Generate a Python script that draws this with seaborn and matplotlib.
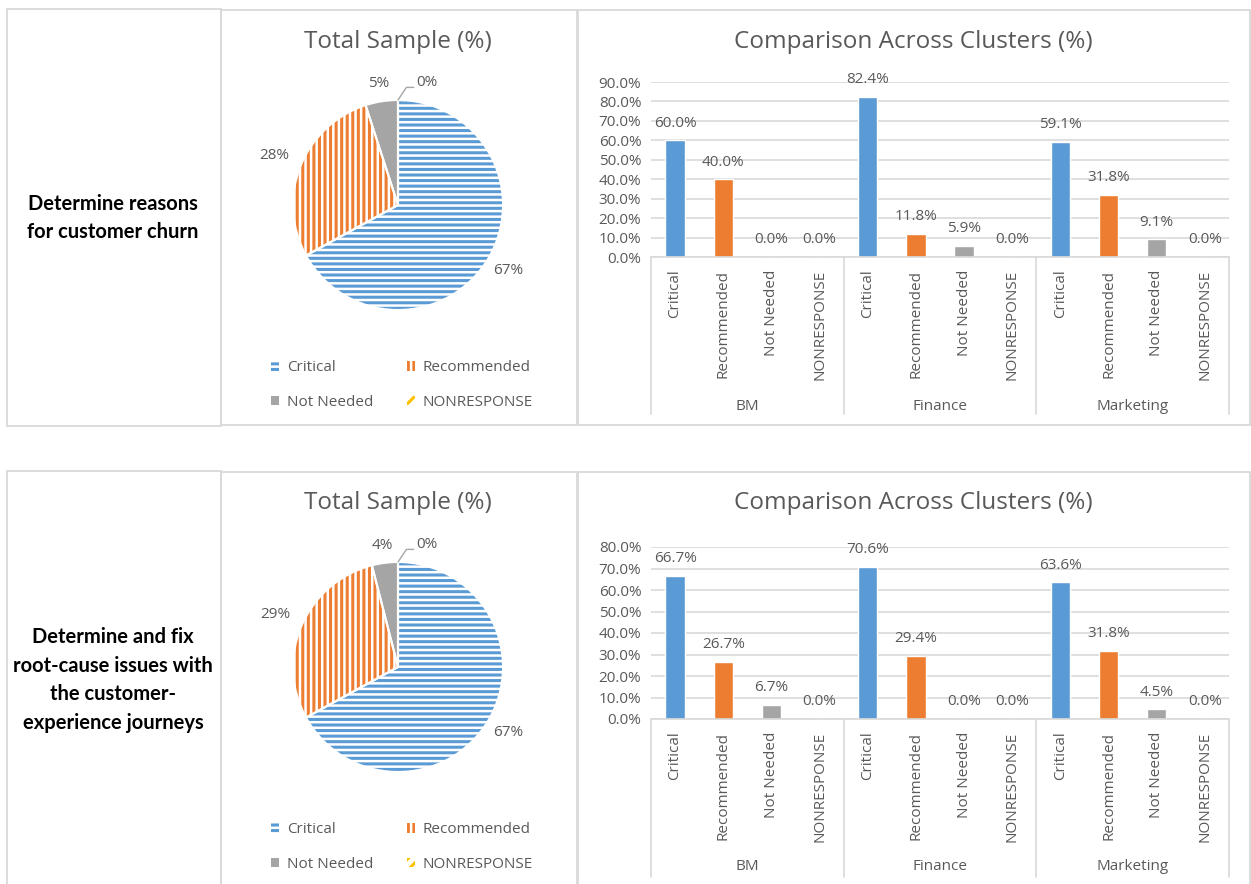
import numpy as np
import pandas as pd
import matplotlib
matplotlib.use("Agg")
import matplotlib.pyplot as plt
import matplotlib.transforms as mtransforms
from matplotlib.patches import Patch, Rectangle
import seaborn as sns

# ---------------- data ----------------
categories = ["Critical", "Recommended", "Not Needed", "NONRESPONSE"]
clusters = ["BM", "Finance", "Marketing"]

row_titles = [
    "Determine reasons\nfor customer churn",
    "Determine and fix\nroot-cause issues with\nthe customer-\nexperience journeys",
]

# total sample shares (%)
pie_churn = [67, 28, 5, 0]
pie_journeys = [67, 29, 4, 0]

# per-cluster shares (%)
bm_churn = [60.0, 40.0, 0.0, 0.0]
finance_churn = [82.4, 11.8, 5.9, 0.0]
marketing_churn = [59.1, 31.8, 9.1, 0.0]

bm_journeys = [66.7, 26.7, 6.7, 0.0]
finance_journeys = [70.6, 29.4, 0.0, 0.0]
marketing_journeys = [63.6, 31.8, 4.5, 0.0]

# ---------------- style ----------------
sns.set_theme(style="white")
plt.rcParams["font.family"] = ["Open Sans", "DejaVu Sans"]
plt.rcParams["hatch.linewidth"] = 2.2

palette = {"Critical": "#5B9BD5", "Recommended": "#ED7D31",
           "Not Needed": "#A5A5A5", "NONRESPONSE": "#FFC000"}
hatches = {"Critical": "---", "Recommended": "|||", "Not Needed": None, "NONRESPONSE": "///"}
TEXT = "#595959"
FRAME = "#D9D9D9"

W, H = 1251, 884
fig = plt.figure(figsize=(W / 100, H / 100), dpi=100)


def px_axes(x0, y0, x1, y1):
    return fig.add_axes([x0 / W, 1 - y1 / H, (x1 - x0) / W, (y1 - y0) / H])


def frame(x0, y0, x1, y1):
    fig.add_artist(Rectangle((x0 / W, 1 - y1 / H), (x1 - x0) / W, (y1 - y0) / H,
                             transform=fig.transFigure, fill=False,
                             edgecolor=FRAME, linewidth=1.3))


def wedge_style(cat):
    col = palette[cat]
    if hatches[cat] is None:
        return dict(facecolor=col, edgecolor=col, linewidth=0)
    return dict(facecolor="white", edgecolor=col, hatch=hatches[cat], linewidth=0)


def draw_pie(cy, values):
    R = 105.0
    half = 150
    ax = px_axes(398 - half, cy - half, 398 + half, cy + half)
    lim = half / R
    wedges, _ = ax.pie(values, startangle=90, counterclock=False, radius=1,
                       colors=["white"] * len(values))
    for w, cat in zip(wedges, categories):
        st = wedge_style(cat)
        w.set_facecolor(st["facecolor"])
        w.set_edgecolor(st["edgecolor"])
        w.set_linewidth(0)
        if st.get("hatch"):
            w.set_hatch(st["hatch"])
    # thin white separators between slices
    ax.pie(values, startangle=90, counterclock=False, radius=1,
           colors=["none"] * len(values),
           wedgeprops=dict(edgecolor="white", linewidth=1.5, fill=False))
    ax.set_xlim(-lim, lim)
    ax.set_ylim(-lim, lim)
    ax.set_aspect("equal")
    ax.axis("off")

    dists = [1.22, 1.27, 1.17]
    for w, v, d in zip(wedges[:3], values[:3], dists):
        mid = np.deg2rad((w.theta1 + w.theta2) / 2)
        ax.text(d * np.cos(mid), d * np.sin(mid), f"{v}%", ha="center", va="center",
                fontsize=11, color=TEXT)
    # zero-size slice gets a leader line
    w0 = wedges[3]
    a0 = np.deg2rad(w0.theta1)
    sx, sy = np.cos(a0), np.sin(a0)
    ax.plot([sx, sx + 0.08, sx + 0.15], [sy, sy + 0.12, sy + 0.12],
            color="#A6A6A6", lw=1, clip_on=False)
    ax.text(sx + 0.17, sy + 0.17, f"{values[3]}%", ha="left", va="center",
            fontsize=11, color=TEXT)

    handles = {c: Patch(**wedge_style(c)) for c in categories}
    order = ["Critical", "Not Needed", "Recommended", "NONRESPONSE"]
    fig.legend([handles[c] for c in order], order, ncol=2, loc="center",
               bbox_to_anchor=(402 / W, 1 - (cy + 180) / H), frameon=False,
               handlelength=0.55, handleheight=0.55, handletextpad=0.5,
               columnspacing=2.2, labelspacing=1.25, fontsize=11, labelcolor=TEXT)


def draw_bars(top, bottom, ymax, group_values, sep_bottom, group_y):
    ax = px_axes(651, top, 1229, bottom)
    h = bottom - top
    rows = []
    for cl, vals in zip(clusters, group_values):
        for cat, v in zip(categories, vals):
            rows.append(dict(slot=f"{cl} {cat}", category=cat, cluster=cl, value=v))
    df = pd.DataFrame(rows)
    sns.barplot(data=df, x="slot", y="value", hue="category", order=list(df["slot"]),
                hue_order=categories, palette=palette, dodge=False, width=0.4,
                saturation=1, legend=False, ax=ax)
    for cont in ax.containers:
        ax.bar_label(cont, fmt="%.1f%%", padding=7, fontsize=11, color=TEXT)

    ax.set_ylim(0, ymax)
    ax.set_xlim(-0.5, len(df) - 0.5)
    ax.set_yticks(np.arange(0, ymax + 1, 10))
    ax.yaxis.set_major_formatter(matplotlib.ticker.FuncFormatter(lambda v, p: f"{v:.1f}%"))
    ax.yaxis.grid(True, color=FRAME, linewidth=1.2)
    ax.set_axisbelow(True)
    for s in ["left", "right", "top"]:
        ax.spines[s].set_visible(False)
    ax.spines["bottom"].set_color(FRAME)
    ax.spines["bottom"].set_linewidth(1.2)
    ax.set_xticks(range(len(df)))
    ax.set_xticklabels(categories * len(clusters), rotation=90, va="top")
    ax.tick_params(axis="x", length=0, pad=9, labelsize=11, labelcolor=TEXT)
    ax.tick_params(axis="y", length=0, pad=7, labelsize=11, labelcolor=TEXT)
    ax.set_xlabel("")
    ax.set_ylabel("")

    tr = mtransforms.blended_transform_factory(ax.transData, ax.transAxes)
    n = len(categories)
    for k in range(len(clusters) + 1):
        xb = k * n - 0.5
        ax.plot([xb, xb], [0, -(sep_bottom - bottom) / h], transform=tr,
                color=FRAME, lw=1.2, clip_on=False)
    for k, cl in enumerate(clusters):
        ax.text(k * n + (n - 1) / 2, -(group_y - bottom) / h, cl, transform=tr,
                ha="center", va="center", fontsize=11, color=TEXT)


# ---------------- panels ----------------
rows_cfg = [
    dict(y0=9, y1=426, pie_cy=205, title_y=42, values=pie_churn,
         bars=[bm_churn, finance_churn, marketing_churn], top=82, bottom=257,
         ymax=90, sep=414, gy=406, text_y=218),
    dict(y0=471, y1=890, pie_cy=667, title_y=503, values=pie_journeys,
         bars=[bm_journeys, finance_journeys, marketing_journeys], top=547, bottom=719,
         ymax=80, sep=877, gy=867, text_y=680),
]

for cfg, label in zip(rows_cfg, row_titles):
    frame(7, cfg["y0"], 221, cfg["y1"])
    frame(221, cfg["y0"] + 1, 577, cfg["y1"] - 1)
    frame(578, cfg["y0"] + 1, 1250, cfg["y1"] - 1)

    fig.text(113 / W, 1 - cfg["text_y"] / H, label, ha="center", va="center",
             fontsize=14.5, fontweight="bold", color="black", linespacing=1.55,
             family=["Lato", "DejaVu Sans"])
    fig.text(398 / W, 1 - cfg["title_y"] / H, "Total Sample (%)", ha="center",
             va="center", fontsize=17.5, color=TEXT)
    fig.text(913 / W, 1 - cfg["title_y"] / H, "Comparison Across Clusters (%)",
             ha="center", va="center", fontsize=17.5, color=TEXT)

    draw_pie(cfg["pie_cy"], cfg["values"])
    draw_bars(cfg["top"], cfg["bottom"], cfg["ymax"], cfg["bars"], cfg["sep"], cfg["gy"])

fig.savefig("out.png", dpi=100, facecolor="white")
